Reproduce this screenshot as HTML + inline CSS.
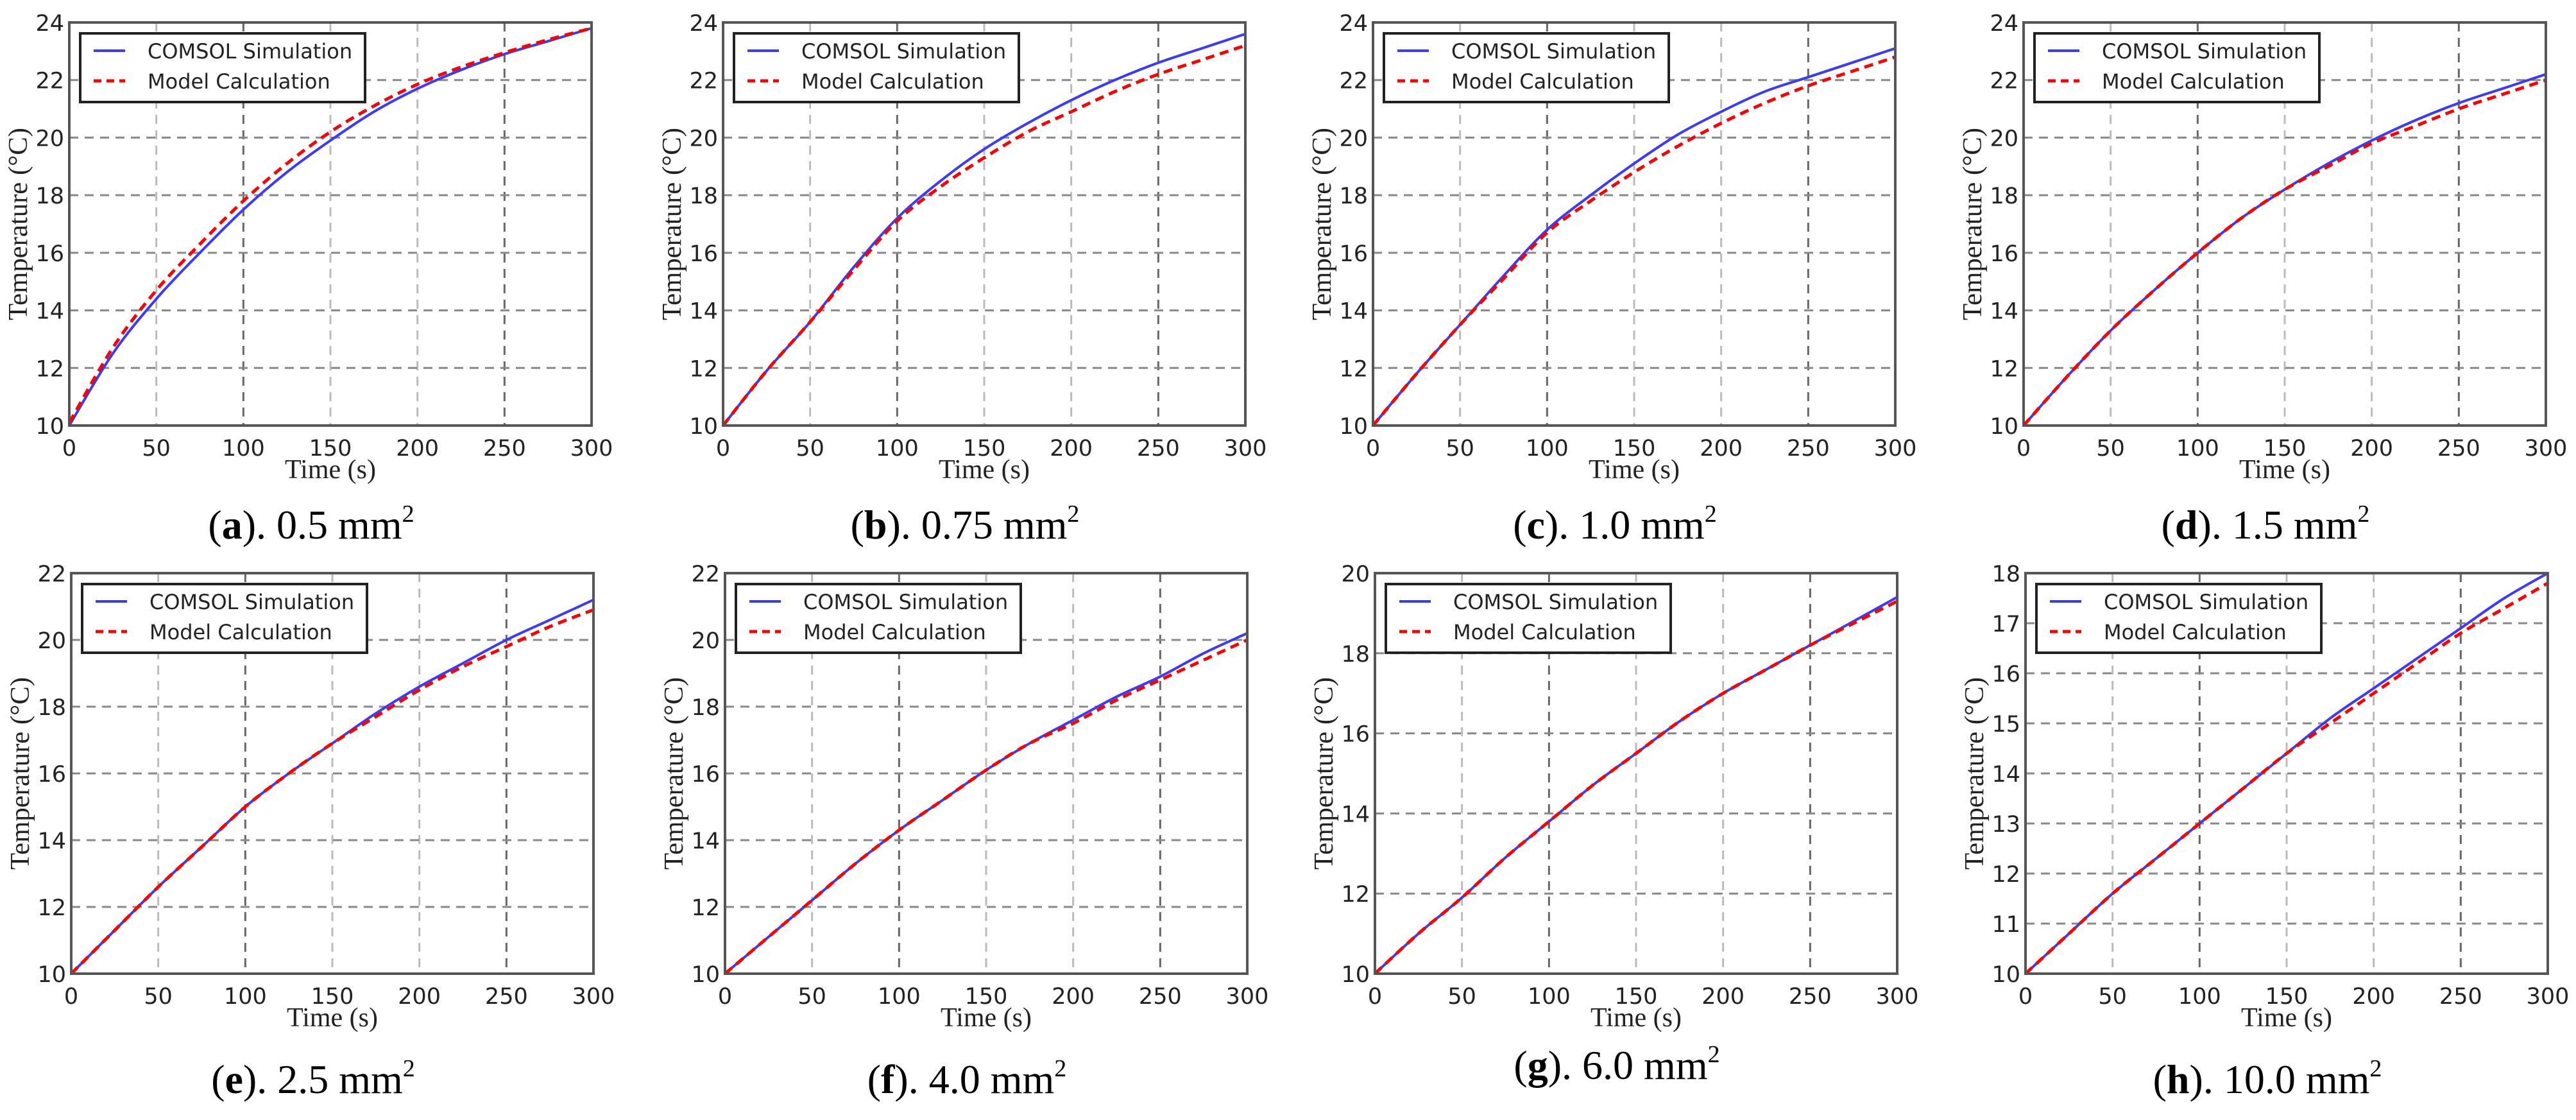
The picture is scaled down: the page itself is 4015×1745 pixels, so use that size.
<!DOCTYPE html>
<html><head><meta charset="utf-8"><style>
html,body{margin:0;padding:0;background:#fff;}
svg{display:block;}
</style></head><body>
<svg id="fig" width="4015" height="1745" viewBox="0 0 4015 1745" xmlns="http://www.w3.org/2000/svg"></svg>
<script>
const times = [0,25,50,75,100,125,150,175,200,225,250,275,300];
const xTicks = [0,50,100,150,200,250,300];
const panelLetters = ['a','b','c','d','e','f','g','h'];
const panelSizes = ['0.5','0.75','1.0','1.5','2.5','4.0','6.0','10.0'];
const yMaxes = [24,24,24,24,22,22,20,18];
const yMins = [10,10,10,10,10,10,10,10];
const ySteps = [2,2,2,2,2,2,2,1];
const comsolA = [10,12.5,14.4,16.0,17.5,18.8,19.9,20.9,21.7,22.35,22.9,23.35,23.8];
const modelA  = [10.1,12.7,14.7,16.3,17.8,19.1,20.2,21.1,21.85,22.45,22.95,23.4,23.8];
const comsolB = [10,11.9,13.6,15.5,17.2,18.5,19.6,20.5,21.3,22.0,22.6,23.1,23.6];
const modelB  = [10,11.9,13.6,15.4,17.1,18.3,19.3,20.2,20.9,21.6,22.2,22.7,23.2];
const comsolC = [10,11.8,13.5,15.2,16.8,18.0,19.1,20.1,20.9,21.6,22.1,22.6,23.1];
const modelC  = [10,11.8,13.5,15.1,16.7,17.8,18.8,19.7,20.5,21.2,21.8,22.3,22.8];
const comsolD = [10,11.7,13.3,14.7,16.0,17.2,18.2,19.1,19.9,20.6,21.2,21.7,22.2];
const modelD  = [10,11.7,13.3,14.7,16.0,17.2,18.2,19.0,19.8,20.4,21.0,21.5,22.0];
const comsolE = [10,11.3,12.6,13.8,15.0,16.0,16.9,17.8,18.6,19.3,20.0,20.6,21.2];
const modelE  = [10,11.3,12.6,13.8,15.0,16.0,16.9,17.7,18.5,19.2,19.8,20.4,20.9];
const comsolF = [10,11.1,12.2,13.3,14.3,15.2,16.1,16.9,17.6,18.3,18.9,19.6,20.2];
const modelF  = [10,11.1,12.2,13.3,14.3,15.2,16.1,16.9,17.5,18.2,18.8,19.4,20.0];
const comsolG = [10,11.0,11.9,12.9,13.8,14.7,15.5,16.3,17.0,17.6,18.2,18.8,19.4];
const modelG  = [10,11.0,11.9,12.9,13.8,14.7,15.5,16.3,17.0,17.6,18.2,18.75,19.3];
const comsolH = [10,10.8,11.6,12.3,13.0,13.7,14.4,15.1,15.7,16.3,16.9,17.5,18.0];
const modelH  = [10,10.8,11.6,12.3,13.0,13.7,14.4,15.0,15.6,16.2,16.8,17.3,17.8];
const comsolAll = [comsolA,comsolB,comsolC,comsolD,comsolE,comsolF,comsolG,comsolH];
const modelAll = [modelA,modelB,modelC,modelD,modelE,modelF,modelG,modelH];

const NS='http://www.w3.org/2000/svg';
const svg=document.getElementById('fig');
function mk(tag,attrs,parent){const e=document.createElementNS(NS,tag);for(const k in attrs)e.setAttribute(k,attrs[k]);(parent||svg).appendChild(e);return e;}
function smooth(pts){
  let d='M'+pts[0][0].toFixed(1)+','+pts[0][1].toFixed(1);
  for(let i=0;i<pts.length-1;i++){
    const p0=pts[i-1]||pts[i],p1=pts[i],p2=pts[i+1],p3=pts[i+2]||pts[i+1];
    const c1x=p1[0]+(p2[0]-p0[0])/6,c1y=p1[1]+(p2[1]-p0[1])/6;
    const c2x=p2[0]-(p3[0]-p1[0])/6,c2y=p2[1]-(p3[1]-p1[1])/6;
    d+=' C'+c1x.toFixed(1)+','+c1y.toFixed(1)+' '+c2x.toFixed(1)+','+c2y.toFixed(1)+' '+p2[0].toFixed(1)+','+p2[1].toFixed(1);
  }
  return d;
}
const lefts=[108,1127,2140,3154];
const W=814;
const rows=[{top:35,bottom:663,cap:839},{top:893,bottom:1517,cap:1703}];

for(let p=0;p<8;p++){
  const r=Math.floor(p/4), c=p%4;
  const L=lefts[c]+(r?3:0), R=L+W, T=rows[r].top, B=rows[r].bottom;
  const g=mk('g',{});
  
  
  const ymin=yMins[p], ymax=yMaxes[p];
  const xs=v=>L+(v-0)/300*W;
  const ys=v=>B-(v-ymin)/(ymax-ymin)*(B-T);
  xTicks.forEach((t,i)=>{
    if(t>0&&t<300){const l=mk('line',{x1:xs(t),x2:xs(t),y1:T,y2:B,stroke:(t===100||t===250)?'#666':'#bbb','stroke-width':3,'stroke-dasharray':'14 10'},g);
    }
    const tx=mk('text',{x:xs(t),y:B+47,'font-family':'DejaVu Sans, Liberation Sans, sans-serif','font-size':35,'text-anchor':'middle',fill:'#222'},g);
    tx.textContent=t;
    
  });
  for(let v=ymin;v<=ymax+1e-9;v+=ySteps[p]){
    if(v>ymin&&v<ymax){const l=mk('line',{x1:L,x2:R,y1:ys(v),y2:ys(v),stroke:'#888','stroke-width':3,'stroke-dasharray':'14 10'},g);
    }
    const tx=mk('text',{x:L-8,y:ys(v)+13,'font-family':'DejaVu Sans, Liberation Sans, sans-serif','font-size':35,'text-anchor':'end',fill:'#222'},g);
    tx.textContent=v;
    
  }
  const cpts=times.map((t,i)=>[xs(t),ys(comsolAll[p][i])]);
  const s1=mk('path',{d:smooth(cpts),fill:'none',stroke:'#3a3aff','stroke-width':4,'stroke-linejoin':'round'},g);
  
  const mpts=times.map((t,i)=>[xs(t),ys(modelAll[p][i])]);
  const s2=mk('path',{d:smooth(mpts),fill:'none',stroke:'#ff0000','stroke-width':5,'stroke-dasharray':'14 9'},g);
  
  const fr=mk('rect',{x:L,y:T,width:W,height:B-T,fill:'none',stroke:'#555','stroke-width':4},g);
  
  const lg=mk('g',{},g);
  
  mk('rect',{x:L+17,y:T+17,width:444,height:107,fill:'#fff',stroke:'#222','stroke-width':4},lg);
  mk('line',{x1:L+38,x2:L+87,y1:T+44,y2:T+44,stroke:'#3a3aff','stroke-width':4},lg);
  mk('line',{x1:L+38,x2:L+87,y1:T+91,y2:T+91,stroke:'#ff0000','stroke-width':5,'stroke-dasharray':'12 8'},lg);
  const t1=mk('text',{x:L+122,y:T+56,'font-family':'DejaVu Sans, Liberation Sans, sans-serif','font-size':32,fill:'#222'},lg);
  t1.textContent='COMSOL Simulation';
  
  const t2=mk('text',{x:L+122,y:T+103,'font-family':'DejaVu Sans, Liberation Sans, sans-serif','font-size':32,fill:'#222'},lg);
  t2.textContent='Model Calculation';
  
  const xt=mk('text',{x:(L+R)/2,y:B+82,'font-family':'Liberation Serif, serif','font-size':42,'text-anchor':'middle',fill:'#222'},g);
  xt.textContent='Time (s)';
  
  const yt=mk('text',{x:0,y:0,'font-family':'Liberation Serif, serif','font-size':42,'text-anchor':'middle',fill:'#222',transform:'translate('+(L-66)+','+((T+B)/2)+') rotate(-90)',textLength:300,lengthAdjust:'spacingAndGlyphs'},g);
  yt.textContent='Temperature (°C)';
  
  const cap=mk('text',{x:(L+R)/2-30,y:rows[r].cap-(p===6?22:0),'font-family':'Liberation Serif, serif','font-size':64,'text-anchor':'middle',fill:'#000'},g);
  
  const a=mk('tspan',{},cap);a.textContent='(';
  const b=mk('tspan',{'font-weight':'bold'},cap);b.textContent=panelLetters[p];
  const d=mk('tspan',{},cap);d.textContent='). '+panelSizes[p]+' mm';
  const e=mk('tspan',{'font-size':38,dy:-26},cap);e.textContent='2';
}
</script>
</body></html>
